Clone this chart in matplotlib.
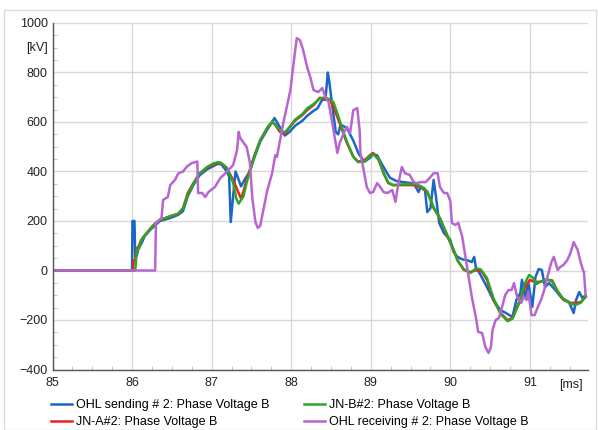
import matplotlib
matplotlib.use("Agg")
import matplotlib.pyplot as plt
from matplotlib.patches import Rectangle
from matplotlib.ticker import MultipleLocator

plt.rcParams['font.family'] = ['Liberation Sans', 'DejaVu Sans']

# ---------------- data ----------------
send_t = [85.0, 86.0, 86.005, 86.03, 86.04, 86.06, 86.08, 86.12, 86.16, 86.23, 86.35, 86.48, 86.58,
          86.64, 86.70, 86.77, 86.85, 86.94, 87.07, 87.12, 87.19, 87.22, 87.24, 87.27, 87.30, 87.33,
          87.37, 87.42, 87.48, 87.53, 87.61, 87.70, 87.76, 87.79, 87.82, 87.89, 87.92, 87.98, 88.05,
          88.14, 88.20, 88.28, 88.33, 88.39, 88.43, 88.46, 88.48, 88.51, 88.56, 88.59, 88.62, 88.70,
          88.78, 88.85, 88.92, 88.99, 89.03, 89.08, 89.16, 89.24, 89.32, 89.41, 89.54, 89.60, 89.63,
          89.68, 89.71, 89.75, 89.79, 89.82, 89.86, 89.92, 90.00, 90.04, 90.09, 90.15, 90.21, 90.27,
          90.30, 90.32, 90.38, 90.46, 90.54, 90.63, 90.70, 90.78, 90.83, 90.88, 90.90, 90.94, 90.98,
          91.03, 91.07, 91.11, 91.15, 91.19, 91.24, 91.32, 91.40, 91.49, 91.55, 91.58, 91.62, 91.66,
          91.70]
send_v = [0, 0, 200, 200, 55, 60, 91, 110, 140, 165, 200, 212, 225,
          240, 300, 345, 385, 408, 430, 430, 400, 380, 196, 300, 400, 375,
          340, 370, 400, 450, 520, 570, 600, 616, 600, 561, 545, 560, 585,
          605, 625, 645, 655, 690, 690, 800, 760, 680, 560, 550, 590, 575,
          525, 470, 440, 455, 470, 465, 418, 375, 362, 357, 352, 317, 340,
          330, 236, 252, 366, 297, 192, 151, 123, 75, 55, 45, 42, 34,
          55, 14, -18, -67, -119, -160, -172, -188, -119, -91, -38, -107, -51,
          -147, -26, 6, 2, -67, -51, -79, -111, -127, -172, -119, -87, -111,
          -100]

jna_t = [85.0, 86.01, 86.02, 86.04, 86.06, 86.08, 86.11, 86.14, 86.18, 86.23, 86.29, 86.35, 86.42,
         86.48, 86.58, 86.64, 86.70, 86.77, 86.85, 86.94, 87.02, 87.07, 87.11, 87.15, 87.19, 87.27,
         87.33, 87.37, 87.40, 87.44, 87.53, 87.61, 87.70, 87.76, 87.80, 87.86, 87.92, 87.98, 88.05,
         88.14, 88.20, 88.28, 88.36, 88.43, 88.49, 88.53, 88.58, 88.64, 88.70, 88.78, 88.84, 88.92,
         88.99, 89.03, 89.10, 89.16, 89.22, 89.28, 89.41, 89.54, 89.62, 89.71, 89.79, 89.87, 89.96,
         90.04, 90.09, 90.17, 90.25, 90.34, 90.40, 90.46, 90.54, 90.63, 90.72, 90.78, 90.86, 90.94,
         91.00, 91.06, 91.13, 91.22, 91.28, 91.34, 91.42, 91.51, 91.58, 91.64, 91.70]
jna_v = [0, 0, 40, 45, 90, 95, 120, 135, 150, 170, 190, 204, 212,
         218, 228, 252, 313, 353, 393, 414, 428, 434, 434, 425, 414, 366,
         320, 290, 320, 366, 458, 527, 575, 600, 588, 559, 552, 578, 606,
         628, 648, 668, 698, 692, 689, 660, 620, 567, 515, 460, 440, 445,
         466, 475, 446, 393, 353, 345, 345, 345, 337, 317, 252, 210, 140,
         83, 42, 2, -6, 2, -6, -38, -119, -172, -200, -192, -131, -67,
         -38, -46, -46, -38, -40, -79, -119, -131, -131, -127, -107]

jnb_t = [85.0, 86.04, 86.06, 86.09, 86.12, 86.16, 86.23, 86.29, 86.35, 86.42, 86.48, 86.58, 86.64,
         86.70, 86.77, 86.85, 86.94, 87.02, 87.08, 87.12, 87.19, 87.27, 87.31, 87.34, 87.37, 87.40,
         87.44, 87.53, 87.61, 87.70, 87.76, 87.80, 87.86, 87.92, 87.98, 88.05, 88.14, 88.20, 88.28,
         88.36, 88.43, 88.49, 88.53, 88.58, 88.64, 88.70, 88.78, 88.84, 88.92, 88.99, 89.03, 89.10,
         89.16, 89.22, 89.28, 89.41, 89.54, 89.62, 89.71, 89.79, 89.87, 89.96, 90.04, 90.09, 90.17,
         90.25, 90.32, 90.38, 90.46, 90.54, 90.63, 90.72, 90.78, 90.86, 90.94, 90.99, 91.04, 91.08,
         91.13, 91.22, 91.28, 91.34, 91.42, 91.51, 91.58, 91.64, 91.70]
jnb_v = [0, 0, 83, 90, 125, 140, 168, 188, 205, 212, 220, 230, 250,
         305, 350, 392, 418, 432, 438, 435, 415, 355, 290, 270, 285, 300,
         355, 455, 525, 578, 602, 590, 565, 558, 580, 610, 632, 655, 672,
         695, 700, 690, 680, 635, 575, 520, 460, 438, 440, 462, 470, 450,
         395, 355, 345, 348, 350, 342, 320, 255, 210, 145, 85, 40, 5,
         -10, 8, 5, -30, -110, -175, -205, -195, -135, -50, -18, -30, -55,
         -45, -35, -45, -80, -115, -135, -138, -130, -105]

recv_t = [85.0, 86.29, 86.30, 86.37, 86.39, 86.45, 86.48, 86.54, 86.58, 86.64, 86.69, 86.75, 86.82,
          86.83, 86.88, 86.92, 86.96, 87.04, 87.11, 87.19, 87.27, 87.32, 87.34, 87.36, 87.44, 87.48,
          87.51, 87.55, 87.58, 87.61, 87.65, 87.70, 87.76, 87.80, 87.82, 87.86, 87.90, 87.99, 88.03,
          88.07, 88.11, 88.15, 88.20, 88.24, 88.28, 88.34, 88.39, 88.43, 88.47, 88.51, 88.58, 88.61,
          88.66, 88.70, 88.74, 88.78, 88.83, 88.86, 88.87, 88.91, 88.95, 88.99, 89.03, 89.08, 89.12,
          89.16, 89.21, 89.27, 89.31, 89.35, 89.39, 89.43, 89.49, 89.54, 89.58, 89.62, 89.69, 89.74,
          89.79, 89.84, 89.87, 89.92, 89.96, 90.00, 90.02, 90.06, 90.10, 90.15, 90.19, 90.23, 90.27,
          90.32, 90.35, 90.40, 90.44, 90.48, 90.51, 90.53, 90.57, 90.61, 90.65, 90.69, 90.73, 90.77,
          90.80, 90.84, 90.89, 90.92, 90.96, 90.98, 91.02, 91.06, 91.10, 91.14, 91.18, 91.22, 91.27,
          91.30, 91.35, 91.38, 91.42, 91.47, 91.51, 91.55, 91.60, 91.64, 91.68, 91.70]
recv_v = [0, 0, 192, 212, 285, 297, 345, 366, 392, 400, 420, 434, 440,
          313, 313, 297, 317, 337, 374, 398, 426, 487, 560, 535, 499, 438,
          297, 196, 172, 180, 244, 325, 393, 466, 458, 527, 595, 729, 838,
          939, 931, 891, 822, 781, 729, 721, 737, 701, 680, 608, 475, 515,
          555, 580, 555, 648, 656, 567, 475, 406, 337, 313, 317, 353, 337,
          317, 313, 325, 277, 357, 418, 393, 386, 357, 353, 357, 357, 374,
          393, 393, 337, 313, 313, 280, 192, 184, 192, 135, 55, -26, -107,
          -188, -248, -253, -309, -333, -309, -240, -200, -192, -147, -99, -79, -79,
          -51, -107, -131, -107, -119, -87, -180, -180, -147, -119, -79, -26, 34,
          55, 2, 14, 22, 42, 71, 115, 83, 30, -10, -99]

x_ticks = [85, 86, 87, 88, 89, 90, 91]
y_ticks = [-400, -200, 0, 200, 400, 600, 800, 1000]
labels = ["OHL sending # 2: Phase Voltage B", "JN-A#2: Phase Voltage B",
          "JN-B#2: Phase Voltage B", "OHL receiving # 2: Phase Voltage B"]
colors = ["#1a67c6", "#ee2020", "#2aa62a", "#b865d2"]

# ---------------- figure ----------------
W, H = 598, 430
FS = 9
fig = plt.figure(figsize=(W / 100, H / 100), dpi=100)
fig.patches.append(Rectangle((4 / W, 1 - 430 / H), 592 / W, (430 - 10) / H,
                             transform=fig.transFigure, fill=False,
                             edgecolor="#dcdcdc", linewidth=1.0))

ax = fig.add_axes([52.5 / W, 1 - 369.5 / H, (588 - 52.5) / W, (369.5 - 23) / H])

lines = []
for (t, v), c, lab in zip([(send_t, send_v), (jna_t, jna_v), (jnb_t, jnb_v), (recv_t, recv_v)],
                          colors, labels):
    ln, = ax.plot(t, v, color=c, lw=1.8, label=lab, solid_joinstyle="round")
    lines.append(ln)

ax.set_xlim(85, 91.73)
ax.set_ylim(-400, 1000)
ax.set_xticks(x_ticks)
ax.set_yticks(y_ticks)
ax.xaxis.set_minor_locator(MultipleLocator(0.25))
ax.yaxis.set_minor_locator(MultipleLocator(50))
ax.tick_params(which="major", length=0, labelsize=FS, colors="#222222")
ax.tick_params(axis="x", which="major", pad=5.5)
ax.tick_params(axis="y", which="major", pad=3.5)
ax.tick_params(which="minor", direction="in", length=3, color="#bbbbbb")
ax.grid(True, which="major", color="#d8d8d8", linewidth=1.0)
ax.set_axisbelow(True)
for s in ["top", "right"]:
    ax.spines[s].set_visible(False)
for s in ["left", "bottom"]:
    ax.spines[s].set_color("#555555")
    ax.spines[s].set_linewidth(1.0)

ax.text(-4.5 / (588 - 52.5), 900, "[kV]", transform=ax.get_yaxis_transform(),
        ha="right", va="center", fontsize=FS, color="#222222")
ax.text(91.51, -0.026, "[ms]", transform=ax.get_xaxis_transform(),
        ha="center", va="top", fontsize=FS, color="#222222")

fig.legend(handles=lines, labels=labels, ncol=2, loc="upper left",
           bbox_to_anchor=(51 / W, 1 - 399 / H), frameon=False, fontsize=FS,
           handlelength=1.7, handletextpad=0.32, columnspacing=2.7,
           labelspacing=0.42, borderaxespad=0, borderpad=0)

fig.savefig("out.png", dpi=100)
